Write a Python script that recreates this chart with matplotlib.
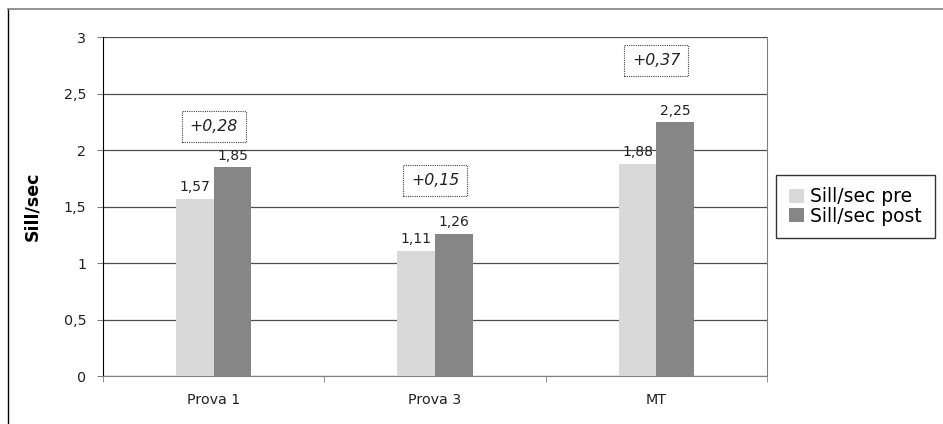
import matplotlib.pyplot as plt
from matplotlib.lines import Line2D
import numpy as np

# data
categories = ["Prova 1", "Prova 3", "MT"]
pre_values = [1.57, 1.11, 1.88]
post_values = [1.85, 1.26, 2.25]
series_names = ["Sill/sec pre", "Sill/sec post"]
y_ticks = [0, 0.5, 1, 1.5, 2, 2.5, 3]
y_label = "Sill/sec"

# height of the dotted difference boxes (layout only)
note_y = [2.21, 1.73, 2.79]


def fmt(v):
    # Italian decimal comma, no trailing zeros
    s = "{:.2f}".format(v).rstrip("0").rstrip(".")
    return s.replace(".", ",")


plt.rcParams["font.family"] = "DejaVu Sans"

fig = plt.figure(figsize=(9.43, 4.24), dpi=100)
ax = fig.add_axes([0.1092, 0.1132, 0.7042, 0.7995])

x = np.arange(len(categories))
width = 0.17
bars_pre = ax.bar(x - width / 2, pre_values, width, color="#d9d9d9",
                  label=series_names[0], zorder=3)
bars_post = ax.bar(x + width / 2, post_values, width, color="#868686",
                   label=series_names[1], zorder=3)

for bars in (bars_pre, bars_post):
    for b in bars:
        ax.annotate(fmt(b.get_height()),
                    (b.get_x() + b.get_width() / 2, b.get_height()),
                    xytext=(0, 3), textcoords="offset points",
                    ha="center", va="bottom", fontsize=10, color="#222222")

for i, (a, b) in enumerate(zip(pre_values, post_values)):
    ax.text(i, note_y[i], "+" + fmt(b - a), ha="center", va="center",
            fontsize=11.3, style="italic", color="#222222",
            bbox=dict(boxstyle="square,pad=0.5", fc="white", ec="#444444",
                      ls=(0, (1, 1)), lw=0.8))

ax.set_xlim(-0.5, 2.5)
ax.set_ylim(0, 3)
ax.set_yticks(y_ticks)
ax.set_yticklabels([fmt(t) for t in y_ticks], fontsize=10.3, color="#222222")
ax.set_xticks(x)
ax.set_xticklabels(categories, fontsize=10.3, color="#222222")
ax.set_xticks([-0.5, 0.5, 1.5, 2.5], minor=True)
ax.tick_params(axis="x", which="major", length=0, pad=12)
ax.tick_params(axis="x", which="minor", length=4, color="#808080")
ax.tick_params(axis="y", length=4, pad=8, color="#808080")

ax.yaxis.grid(True, color="#4d4d4d", lw=0.9, zorder=0)
ax.set_axisbelow(True)

ax.spines["top"].set_visible(False)
ax.spines["left"].set_color("black")
ax.spines["bottom"].set_color("#808080")
ax.spines["right"].set_color("#808080")

ax.set_ylabel(y_label, fontsize=12.5, fontweight="bold")
ax.yaxis.set_label_coords(-0.093, 0.5)

leg = ax.legend(loc="center left", bbox_to_anchor=(776 / 943, 0.513),
                bbox_transform=fig.transFigure, fontsize=13.5,
                frameon=True, fancybox=False, handlelength=0.8,
                handleheight=0.8, handletextpad=0.35, labelspacing=0.02,
                borderpad=0.68, borderaxespad=0)
leg.get_frame().set_edgecolor("black")
leg.get_frame().set_linewidth(1)

# outer chart border (left and top visible)
fig.add_artist(Line2D([8 / 943, 8 / 943], [0, 1 - 9 / 424],
                      transform=fig.transFigure, color="black", lw=1))
fig.add_artist(Line2D([8 / 943, 1], [1 - 9 / 424, 1 - 9 / 424],
                      transform=fig.transFigure, color="#808080", lw=1.2))

fig.savefig("out.png", dpi=100)
